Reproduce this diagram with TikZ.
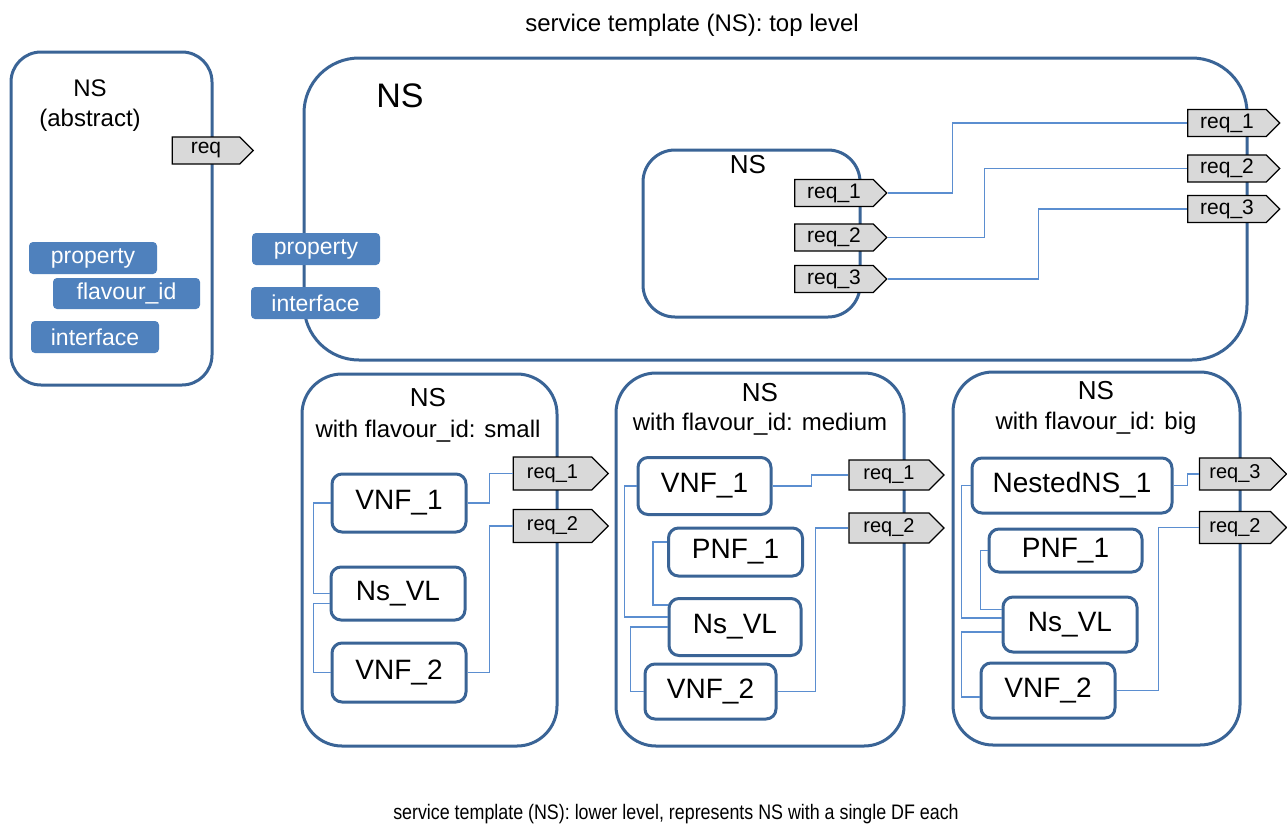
\documentclass[tikz,border=0pt]{standalone}
\usepackage{fontspec}
\setmainfont{Liberation Sans}
\usetikzlibrary{shapes.symbols}
\definecolor{bord}{HTML}{3A6496}
\definecolor{lblue}{HTML}{4F81BD}
\definecolor{connc}{HTML}{5B8ED0}
\definecolor{tagg}{HTML}{D9D9D9}
\tikzset{
 sz/.style 2 args={minimum width=#1pt, minimum height=#2pt},
 bigbox/.style={draw=bord, line width=3pt, fill=white, inner sep=0pt},
 comp/.style={draw=bord, line width=3pt, fill=white, rounded corners=10pt, inner sep=0pt, font=\fontsize{28pt}{32pt}\selectfont},
 tag/.style={signal, signal to=east, signal pointer angle=90, draw=black, line width=1.2pt, fill=tagg, inner sep=0pt, xshift=-6.5pt},
 attr/.style={fill=lblue, rounded corners=4pt, text=white, inner sep=0pt, font=\fontsize{23pt}{27pt}\selectfont},
 conn/.style={draw=connc, line width=1.6pt},
 lbl/.style={inner sep=0pt, align=center},
}
\begin{document}
\begin{tikzpicture}[x=1pt,y=-1pt]
\useasboundingbox (0,0) rectangle (1287,825);
% titles
\node[lbl, font=\fontsize{24pt}{28pt}\selectfont] (title) at (692,25) {service template (NS): top level};
\node[lbl, font=\fontsize{21pt}{24pt}\selectfont] (bottom) at (676,814) {\scalebox{0.85}[1]{service template (NS): lower level, represents NS with a single DF each}};

% abstract NS
\node[bigbox, rounded corners=30pt, sz={201}{333}] (abs) at (111.5,218.5) {};
\node[lbl, font=\fontsize{24pt}{30pt}\selectfont] (absl) at (90,106) {NS\\(abstract)};
\node[attr, sz={128}{32}] (aprop) at (93,258) {property};
\node[attr, sz={147}{31}] (aflav) at (126.5,293.5) {flavour\_id};
\node[attr, sz={128}{32}] (aintf) at (95,337) {interface};
\node[tag, sz={81}{27}, font=\fontsize{21pt}{24pt}\selectfont] (areq) at (212.5,150.5) {req};

% top level NS
\node[bigbox, rounded corners=55pt, sz={943}{302}] (top) at (775.5,209) {};
\node[lbl, font=\fontsize{34pt}{40pt}\selectfont] (topl) at (400,96) {NS};
\node[attr, sz={128}{32}] (tprop) at (316,249) {property};
\node[attr, sz={129}{32}] (tintf) at (315.5,303) {interface};
\node[bigbox, rounded corners=32pt, sz={217}{167}] (inner) at (751.5,233.5) {};
\node[lbl, font=\fontsize{26pt}{30pt}\selectfont] (innerl) at (748,165) {NS};

\begin{scope}[every node/.append style={tag, sz={92}{27}, font=\fontsize{21pt}{24pt}\selectfont}]
\node (ireq1) at (840.5,193) {req\_1};
\node (ireq2) at (840.5,237.5) {req\_2};
\node (ireq3) at (840.5,279) {req\_3};
\node (oreq1) at (1233.5,123) {req\_1};
\node (oreq2) at (1233.5,168.5) {req\_2};
\node (oreq3) at (1233.5,209) {req\_3};
\end{scope}
\draw[conn] (ireq1.east) -- ++(65,0) |- (oreq1.west);
\draw[conn] (ireq2.east) -- ++(97,0) |- (oreq2.west);
\draw[conn] (ireq3.east) -- ++(151,0) |- (oreq3.west);

% lower level boxes
\node[bigbox, rounded corners=40pt, sz={255}{372}] (small) at (429.5,560) {};
\node[bigbox, rounded corners=40pt, sz={288}{373}] (medium) at (760,559.5) {};
\node[bigbox, rounded corners=40pt, sz={287}{373}] (big) at (1096.5,558.5) {};
\node[lbl, font=\fontsize{26pt}{30pt}\selectfont] (smallns) at (428,398) {NS};
\node[lbl, font=\fontsize{24pt}{28pt}\selectfont] (smallsub) at (428,431) {with flavour\_id: small};
\node[lbl, font=\fontsize{26pt}{30pt}\selectfont] (mediumns) at (760,393) {NS};
\node[lbl, font=\fontsize{24pt}{28pt}\selectfont] (mediumsub) at (760,424) {with flavour\_id: medium};
\node[lbl, font=\fontsize{26pt}{30pt}\selectfont] (bigns) at (1096,391) {NS};
\node[lbl, font=\fontsize{24pt}{28pt}\selectfont] (bigsub) at (1096,423) {with flavour\_id: big};

% small components
\node[comp, sz={134}{58}] (svnf1) at (399,503) {VNF\_1};
\node[comp, sz={134}{53}] (sns) at (398,593.5) {Ns\_VL};
\node[comp, sz={134}{59}] (svnf2) at (399,672.5) {VNF\_2};
% medium components
\node[comp, sz={133}{57}] (mvnf1) at (704.5,486) {VNF\_1};
\node[comp, sz={134}{48}] (mpnf) at (735.5,552) {PNF\_1};
\node[comp, sz={132}{57}] (mns) at (735,627) {Ns\_VL};
\node[comp, sz={131}{55}] (mvnf2) at (710.5,691.5) {VNF\_2};
% big components
\node[comp, sz={200}{55}] (bnest) at (1072,485.5) {NestedNS\_1};
\node[comp, sz={153}{43}] (bpnf) at (1065.5,550.5) {PNF\_1};
\node[comp, sz={134}{55}] (bns) at (1070,624.5) {Ns\_VL};
\node[comp, sz={134}{55}] (bvnf2) at (1048,690.5) {VNF\_2};

% lower tags
\begin{scope}[every node/.append style={tag, font=\fontsize{20pt}{23pt}\selectfont}]
\node[sz={95}{33}] (sreq1) at (559,473.5) {req\_1};
\node[sz={95}{33}] (sreq2) at (559,526) {req\_2};
\node[sz={95}{30}] (mreq1) at (895.5,475) {req\_1};
\node[sz={95}{30}] (mreq2) at (895.5,528) {req\_2};
\node[sz={87}{32}] (breq3) at (1241.5,474) {req\_3};
\node[sz={87}{32}] (breq2) at (1241.5,527.5) {req\_2};
\end{scope}

% small connectors
\draw[conn] (svnf1.east) -- ++(22,0) |- (sreq1.west);
\draw[conn] (svnf2.east) -- ++(22,0) |- (sreq2.west);
\draw[conn] (svnf1.west) -- ++(-17,0) |- (sns.west);
\draw[conn] ([yshift=-10pt]sns.west) -| ([xshift=-17pt]svnf2.west) -- (svnf2.west);
% medium connectors
\draw[conn] (mvnf1.east) -- ++(39,0) |- (mreq1.west);
\draw[conn] (mvnf2.east) -- ++(38,0) |- (mreq2.west);
\draw[conn] (mvnf1.west) -- ++(-12,0) |- ([yshift=10pt]mns.west);
\draw[conn] ([yshift=10pt]mpnf.west) -- ++(-14,0) |- ([yshift=22pt]mns.west);
\draw[conn] (mns.west) -| ([xshift=-13pt]mvnf2.west) -- (mvnf2.west);
% big connectors
\draw[conn] (bnest.east) -- ++(14,0) |- (breq3.west);
\draw[conn] (bvnf2.east) -- ++(42,0) |- (breq2.west);
\draw[conn] (bnest.west) -- ++(-9,0) |- ([yshift=6.5pt]bns.west);
\draw[conn] (bpnf.west) -- ++(-7,0) |- ([yshift=15pt]bns.west);
\draw[conn] ([yshift=-7.5pt]bns.west) -| ([xshift=-18pt,yshift=-6.5pt]bvnf2.west) -- ([yshift=-6.5pt]bvnf2.west);
\end{tikzpicture}
\end{document}
